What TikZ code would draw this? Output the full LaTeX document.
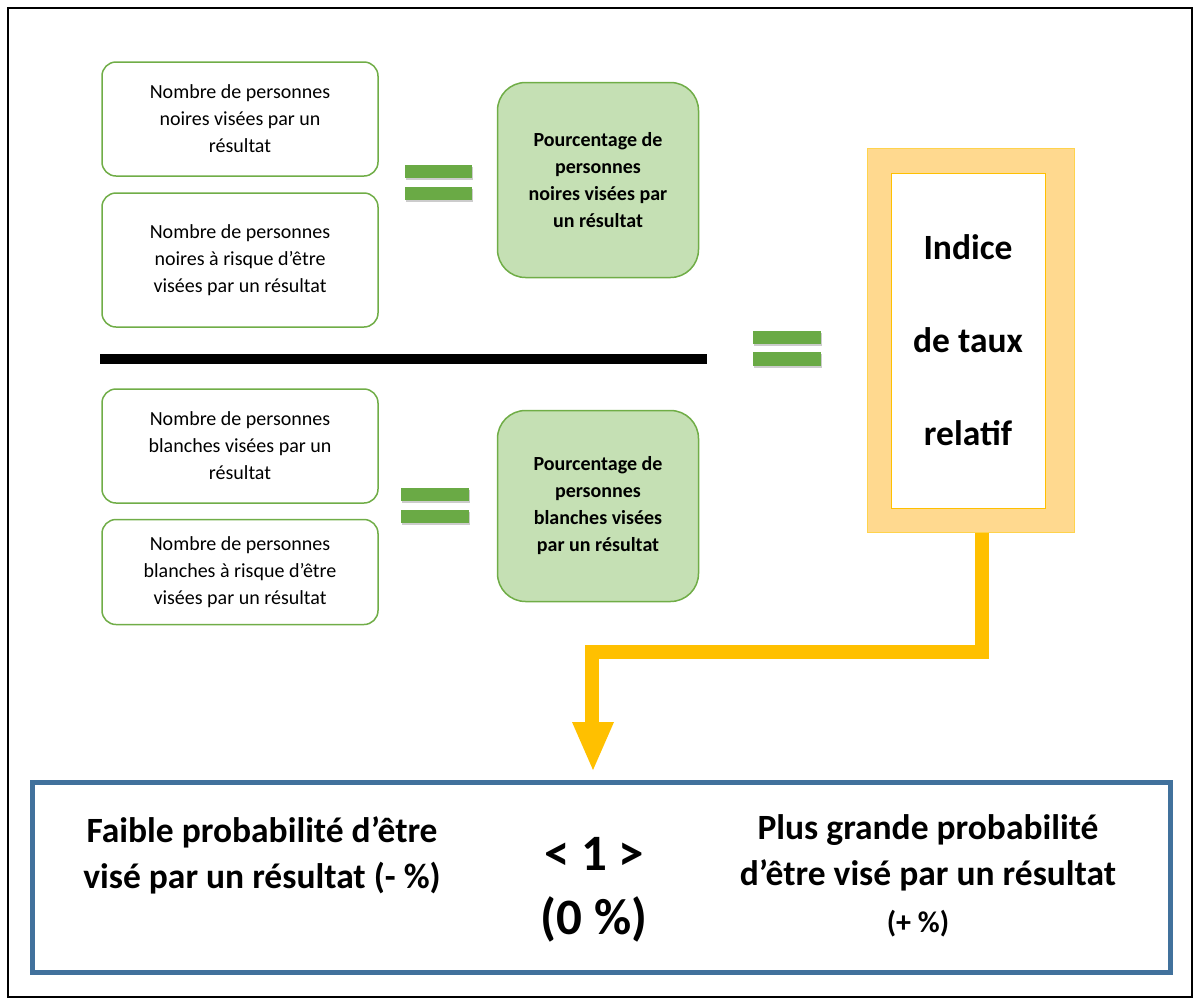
\documentclass[tikz,border=0pt]{standalone}
\usepackage{fontspec}
\setmainfont{Carlito}
\usetikzlibrary{shadows}
\definecolor{gbord}{HTML}{70AD47}
\definecolor{gfill}{HTML}{C5E0B4}
\definecolor{eqc}{HTML}{6AAA45}
\definecolor{orf}{HTML}{FFD98F}
\definecolor{orb}{HTML}{FFC000}
\definecolor{bl}{HTML}{41719C}
\begin{document}
\begin{tikzpicture}[x=1pt,y=-1pt,
  wbox/.style={draw=gbord,line width=1.5pt,fill=white,rounded corners=14pt,align=center,font=\fontsize{20}{27}\selectfont},
  gbox/.style={draw=gbord,line width=1.5pt,fill=gfill,rounded corners=28pt,align=center,font=\bfseries\fontsize{20}{27}\selectfont},
  eq/.style={fill=eqc,drop shadow={shadow xshift=1pt,shadow yshift=-2pt,opacity=0.4}},
  big/.style={font=\bfseries\fontsize{35.5}{46}\selectfont,align=center}]
\useasboundingbox (0,0) rectangle (1200,1005);
\draw[line width=1.2pt] (8,8) rectangle (1192,997);
\node[wbox,minimum width=276pt,minimum height=114pt] (b1) at (240,119) {Nombre de personnes\\noires visées par un\\résultat};
\node[wbox,minimum width=276pt,minimum height=134pt] (b2) at (240,260) {Nombre de personnes\\noires à risque d’être\\visées par un résultat};
\node[wbox,minimum width=276pt,minimum height=114pt] (b3) at (240,446) {Nombre de personnes\\blanches visées par un\\résultat};
\node[wbox,minimum width=276pt,minimum height=105pt] (b4) at (240,572) {Nombre de personnes\\blanches à risque d’être\\visées par un résultat};
\node[gbox,minimum width=201pt,minimum height=195pt] (g1) at (598,180) {Pourcentage de\\personnes\\noires visées par\\un résultat};
\node[gbox,minimum width=201pt,minimum height=191pt] (g2) at (598,506) {Pourcentage de\\personnes\\blanches visées\\par un résultat};
\fill[eq] (405,165) rectangle (472,178); \fill[eq] (405,187) rectangle (472,200);
\fill[eq] (401,488) rectangle (469,501); \fill[eq] (401,510) rectangle (469,523);
\fill[eq] (753,331) rectangle (821,344); \fill[eq] (753,352) rectangle (821,366);
\draw[line width=10pt] (100,359) -- (707,359);
\node[draw=orb!70,line width=1pt,fill=orf,minimum width=207pt,minimum height=384pt] (of) at (970.5,340) {};
\node[draw=orb,line width=1pt,fill=white,minimum width=154pt,minimum height=335pt,align=center,font=\bfseries\fontsize{35.5}{93}\selectfont] (oi) at (968,340.5) {Indice\\de taux\\relatif};
\coordinate (a1) at (982,652); \coordinate (a2) at (592,652); \coordinate (a3) at (592,722);
\draw[orb,line width=14pt] (of.south -| a1) -- (a1) -- (a2) -- (a3);
\fill[orb] (572,722) -- (614,722) -- (593,770) -- cycle;
\node[draw=bl,line width=5pt,minimum width=1138pt,minimum height=190pt] (bot) at (601,877) {};
\node[big] (l) at (262,855) {Faible probabilité d’être\\visé par un résultat (- \%)};
\node[font=\bfseries\fontsize{51}{64}\selectfont,align=center] (m) at (594,890) {< 1 >\\(0 \%)};
\node[big] (r) at (928,853) {Plus grande probabilité\\d’être visé par un résultat};
\node[font=\bfseries\fontsize{30}{30}\selectfont] (r2) at (918,924) {(+ \%)};
\end{tikzpicture}
\end{document}
